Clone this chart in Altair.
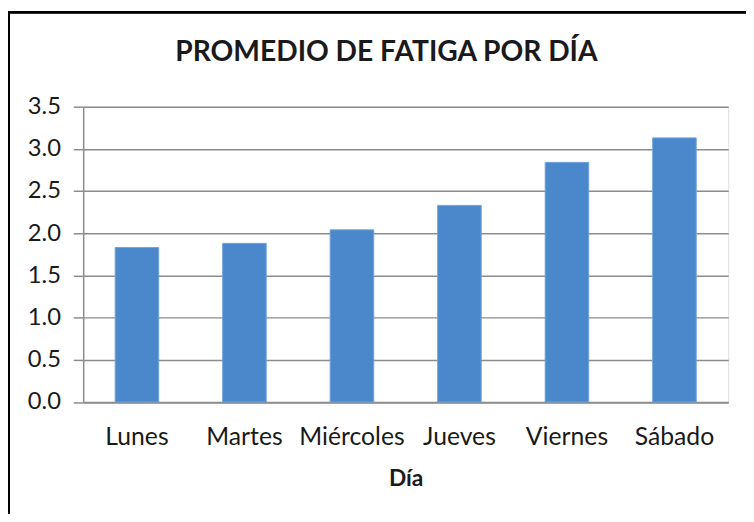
import altair as alt
import pandas as pd

dias = ["Lunes", "Martes", "Miércoles", "Jueves", "Viernes", "Sábado"]
fatiga = [1.83, 1.88, 2.04, 2.33, 2.84, 3.13]

df = pd.DataFrame({"Día": dias, "Fatiga": fatiga})

FONT = "Lato"
TXT = "#1a1a1a"
GRID = "#8c8c8c"

bars = alt.Chart(df).mark_bar(color="#4A88CB", stroke="#6FA3DA", strokeWidth=1).encode(
    x=alt.X("Día:N", sort=dias,
            scale=alt.Scale(paddingInner=0.595, paddingOuter=0.2975),
            axis=alt.Axis(title="Día", labelAngle=0, ticks=False, labelPadding=22.5,
                          labelFontSize=25, labelColor=TXT, labelFont=FONT,
                          titleFont=FONT, titleFontSize=23, titleFontWeight="bold",
                          titleColor=TXT, titlePadding=19,
                          domainColor=GRID, domainWidth=1.5)),
    y=alt.Y("Fatiga:Q",
            scale=alt.Scale(domain=[0, 3.5], nice=False),
            axis=alt.Axis(title=None, values=[0, 0.5, 1, 1.5, 2, 2.5, 3, 3.5], format=".1f",
                          tickSize=10, tickColor=GRID, tickWidth=1.5,
                          labelPadding=13, labelFontSize=24, labelColor=TXT, labelFont=FONT,
                          gridColor=GRID, gridWidth=1.5,
                          domainColor=GRID, domainWidth=1.5)),
)

frame = alt.Chart(df).mark_rect(fill=None, stroke="black", strokeWidth=2).encode(
    x=alt.value(-75), x2=alt.value(700), y=alt.value(-95.5), y2=alt.value(450)
)

chart = alt.layer(bars, frame).properties(
    width=652, height=298.5,
    padding={"left": 76, "top": 97, "right": 18, "bottom": 110},
    autosize=alt.AutoSizeParams(type="none"),
    title=alt.TitleParams("PROMEDIO DE FATIGA POR DÍA", font=FONT, fontSize=28.5,
                          fontWeight="bold", color=TXT, anchor="middle",
                          baseline="alphabetic", offset=-78.5, dx=-19.5),
).configure_view(stroke=None).configure(background="white")

chart.save("out.html", embed_options={"renderer": "svg", "actions": False})
